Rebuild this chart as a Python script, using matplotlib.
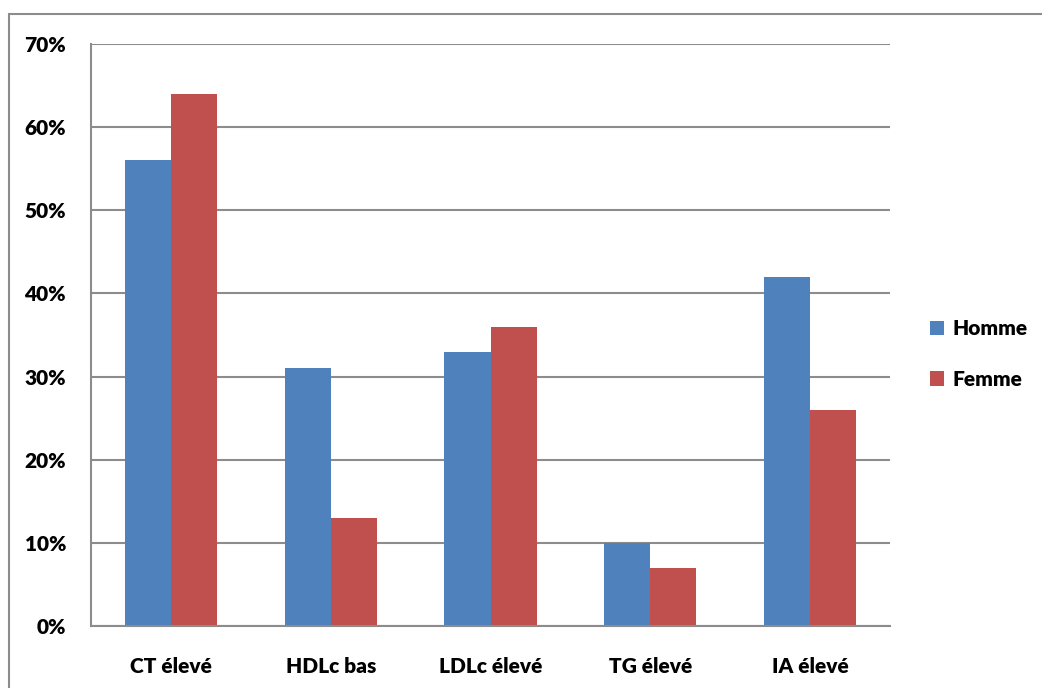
import matplotlib
matplotlib.use("Agg")
import matplotlib.pyplot as plt
import numpy as np
from matplotlib.patches import Rectangle

categories = ["CT élevé", "HDLc bas", "LDLc élevé", "TG élevé", "IA élevé"]
homme = [56, 31, 33, 10, 42]
femme = [64, 13, 36, 7, 26]
series_labels = ["Homme", "Femme"]
yticks = [0, 10, 20, 30, 40, 50, 60, 70]

plt.rcParams["font.family"] = ["Lato", "DejaVu Sans"]
plt.rcParams["font.weight"] = "heavy"

W, H = 1042, 688
fig = plt.figure(figsize=(W / 100, H / 100), dpi=100)
ax = fig.add_axes([91 / W, 1 - 626 / H, (890 - 91) / W, (626 - 44) / H])

# outer frame
fig.patches.append(Rectangle((9 / W, -0.02), 1.05, 1 - 14 / H + 0.02,
                             transform=fig.transFigure, fill=False,
                             edgecolor="#8c8c8c", linewidth=1.5, clip_on=False))

x = np.arange(len(categories))
bw = 0.288
ax.bar(x - bw / 2, homme, bw, color="#4F81BD", label=series_labels[0], zorder=3)
ax.bar(x + bw / 2, femme, bw, color="#C0504D", label=series_labels[1], zorder=3)

ax.set_xlim(-0.5, len(categories) - 0.5)
ax.set_ylim(0, 70)
ax.set_yticks(yticks)
ax.set_yticklabels([f"{v}%" for v in yticks], fontsize=15, fontweight="heavy")
ax.set_xticks(x)
ax.set_xticklabels(categories, fontsize=15, fontweight="heavy")
ax.tick_params(axis="both", length=0)
ax.tick_params(axis="y", pad=18)
ax.tick_params(axis="x", pad=22)
ax.yaxis.grid(True, color="#8c8c8c", linewidth=1.5, zorder=0)
ax.set_axisbelow(True)
for s in ["top", "right"]:
    ax.spines[s].set_visible(False)
ax.spines["left"].set_color("#8c8c8c")
ax.spines["left"].set_linewidth(1.5)
ax.spines["bottom"].set_color("#8c8c8c")
ax.spines["bottom"].set_linewidth(1.5)
ax.spines["bottom"].set_zorder(4)

leg = fig.legend(loc="center left", bbox_to_anchor=(911 / W, 1 - 354 / H),
                 frameon=False, fontsize=15, handlelength=0.7, handleheight=0.7,
                 handletextpad=0.4, labelspacing=1.5)
for t in leg.get_texts():
    t.set_fontweight("heavy")

fig.savefig("out.png", dpi=100)
